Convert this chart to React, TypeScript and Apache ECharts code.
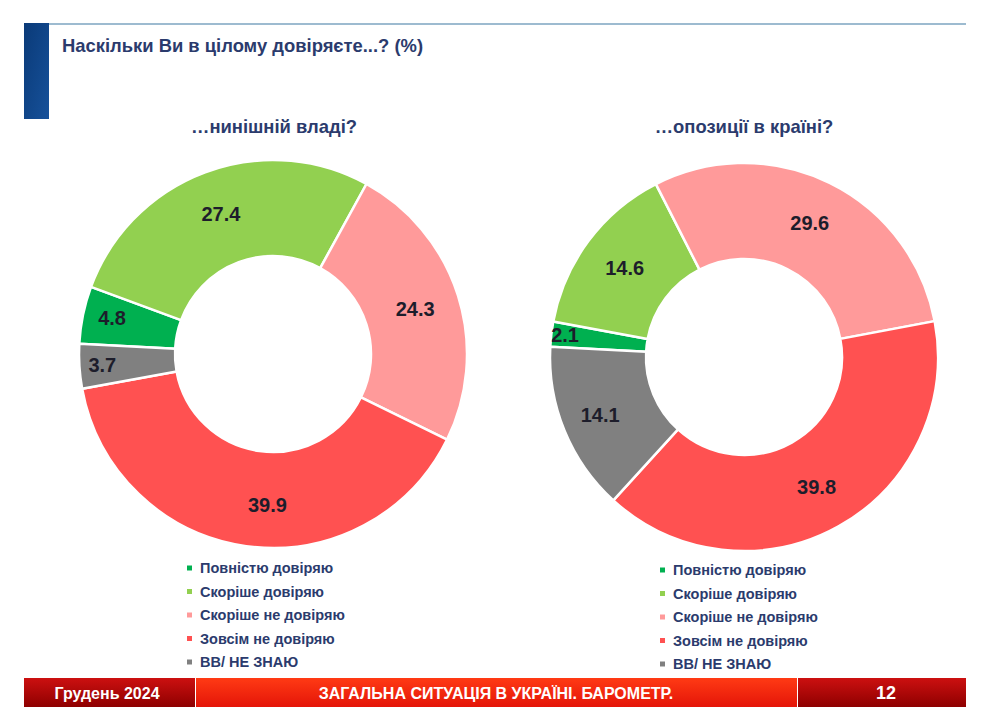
import React, { useEffect, useRef } from "react";
import * as echarts from "echarts";

const categories = [
  "Повністю довіряю",
  "Скоріше довіряю",
  "Скоріше не довіряю",
  "Зовсім не довіряю",
  "ВВ/ НЕ ЗНАЮ",
];
const governmentValues = [4.8, 27.4, 24.3, 39.9, 3.7];
const oppositionValues = [2.1, 14.6, 29.6, 39.8, 14.1];
const sliceColors = ["#00b050", "#92d050", "#ff9a9a", "#ff5151", "#808080"];

const mainTitle = "Наскільки Ви в цілому довіряєте...? (%)";
const leftTitle = "…нинішній владі?";
const rightTitle = "…опозиції в країні?";
const footerLeft = "Грудень 2024";
const footerMiddle = "ЗАГАЛЬНА СИТУАЦІЯ В УКРАЇНІ. БАРОМЕТР.";
const footerRight = "12";

// label nudges (layout only), per slice index
const govLabelNudge: Record<number, number[]> = { 0: [-15, -6], 3: [15, 3], 4: [-22, 2] };
const oppLabelNudge: Record<number, number[]> = { 0: [-31, -4], 4: [-6, 1] };

const FONT = '"Liberation Sans", Arial, "DejaVu Sans", sans-serif';
const NAVY = "#2b3b6d";

export default function App() {
  const ref = useRef<HTMLDivElement>(null);

  useEffect(() => {
    if (!ref.current) return;
    const chart = echarts.init(ref.current, undefined, { renderer: "svg" });

    const makeData = (vals: number[], nudge: Record<number, number[]>) =>
      vals.map((v, i) => ({
        name: categories[i],
        value: v,
        itemStyle: { color: sliceColors[i] },
        label: nudge[i] ? { offset: nudge[i] } : undefined,
      }));

    const pieBase = {
      type: "pie" as const,
      radius: [98, 194],
      startAngle: 177,
      clockwise: true,
      avoidLabelOverlap: false,
      silent: true,
      itemStyle: { borderColor: "#ffffff", borderWidth: 2.5 },
      label: {
        show: true,
        position: "inside",
        formatter: "{c}",
        fontFamily: FONT,
        fontWeight: "bold",
        fontSize: 20,
        color: "#1d1d2b",
      },
      labelLine: { show: false },
      emphasis: { disabled: true },
    };

    const legendBase = {
      orient: "vertical" as const,
      data: categories,
      icon: "rect",
      itemWidth: 7,
      itemHeight: 7,
      itemGap: 7.5,
      padding: 0,
      selectedMode: false,
      textStyle: {
        fontFamily: FONT,
        fontWeight: "bold",
        fontSize: 14.5,
        color: NAVY,
        lineHeight: 16,
        padding: [0, 0, 0, 2],
      },
    };

    const darkGrad = () =>
      new echarts.graphic.LinearGradient(0, 0, 0, 1, [
        { offset: 0, color: "#cc1010" },
        { offset: 1, color: "#8e0000" },
      ]);
    const brightGrad = new echarts.graphic.LinearGradient(0, 0, 0, 1, [
      { offset: 0, color: "#ff3a14" },
      { offset: 1, color: "#e41508" },
    ]);

    chart.setOption({
      animation: false,
      backgroundColor: "#ffffff",
      legend: [
        { ...legendBase, left: 185, top: 560 },
        { ...legendBase, left: 658, top: 562 },
      ],
      series: [
        { ...pieBase, name: "gov", center: [273, 354], data: makeData(governmentValues, govLabelNudge) },
        { ...pieBase, name: "opp", center: [744, 357], data: makeData(oppositionValues, oppLabelNudge) },
      ],
      graphic: [
        {
          type: "rect",
          shape: { x: 49, y: 23, width: 917, height: 2 },
          style: { fill: "#9dbbd0" },
        },
        {
          type: "rect",
          shape: { x: 24, y: 23, width: 25, height: 96 },
          style: {
            fill: new echarts.graphic.LinearGradient(0, 0, 1, 1, [
              { offset: 0, color: "#0a3a78" },
              { offset: 1, color: "#16519a" },
            ]),
          },
        },
        {
          type: "text",
          x: 62,
          y: 45,
          style: {
            text: mainTitle,
            fill: NAVY,
            font: `bold 18.4px ${FONT}`,
            textVerticalAlign: "middle",
          },
        },
        {
          type: "text",
          x: 274,
          y: 126,
          style: {
            text: leftTitle,
            fill: NAVY,
            font: `bold 18.4px ${FONT}`,
            textAlign: "center",
            textVerticalAlign: "middle",
          },
        },
        {
          type: "text",
          x: 744,
          y: 126,
          style: {
            text: rightTitle,
            fill: NAVY,
            font: `bold 18.4px ${FONT}`,
            textAlign: "center",
            textVerticalAlign: "middle",
          },
        },
        {
          type: "rect",
          shape: { x: 24, y: 678, width: 171, height: 29 },
          style: { fill: darkGrad() },
        },
        {
          type: "rect",
          shape: { x: 196, y: 678, width: 601, height: 29 },
          style: { fill: brightGrad },
        },
        {
          type: "rect",
          shape: { x: 798, y: 678, width: 168, height: 29 },
          style: { fill: darkGrad() },
        },
        {
          type: "text",
          x: 107,
          y: 693,
          style: {
            text: footerLeft,
            fill: "#ffffff",
            font: `bold 16px ${FONT}`,
            textAlign: "center",
            textVerticalAlign: "middle",
          },
        },
        {
          type: "text",
          x: 496,
          y: 693,
          style: {
            text: footerMiddle,
            fill: "#ffffff",
            font: `bold 16px ${FONT}`,
            textAlign: "center",
            textVerticalAlign: "middle",
          },
        },
        {
          type: "text",
          x: 886,
          y: 693,
          style: {
            text: footerRight,
            fill: "#ffffff",
            font: `bold 18px ${FONT}`,
            textAlign: "center",
            textVerticalAlign: "middle",
          },
        },
      ],
    });

    return () => chart.dispose();
  }, []);

  return (
    <div
      ref={ref}
      style={{ position: "fixed", left: 0, top: 0, width: 1000, height: 719, background: "#fff" }}
    />
  );
}
